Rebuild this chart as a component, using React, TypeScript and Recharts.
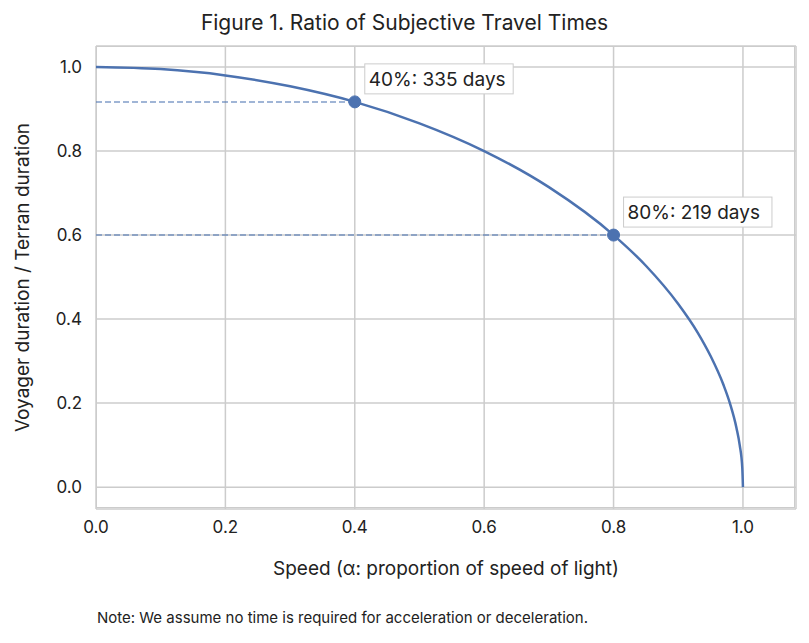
import { ComposedChart, Line, XAxis, YAxis, CartesianGrid, ReferenceLine, ReferenceDot } from "recharts";

const speeds = [0, 0.1, 0.2, 0.3, 0.4, 0.5, 0.6, 0.7, 0.8, 0.85, 0.9, 0.93, 0.95, 0.97, 0.98, 0.99, 0.995, 0.999, 1.0];
const ratios = [1, 0.995, 0.98, 0.954, 0.917, 0.866, 0.8, 0.714, 0.6, 0.527, 0.436, 0.368, 0.312, 0.243, 0.199, 0.141, 0.1, 0.045, 0];
const xTicks = [0, 0.2, 0.4, 0.6, 0.8, 1.0];
const yTicks = [0, 0.2, 0.4, 0.6, 0.8, 1.0];
const marks = [
  { x: 0.4, y: 0.917, label: "40%: 335 days" },
  { x: 0.8, y: 0.6, label: "80%: 219 days" },
];

const data = speeds.map((s, i) => ({ x: s, y: ratios[i] }));
const FONT = "Inter, 'DejaVu Sans', sans-serif";
const BLUE = "#4c72b0";

const BoxLabel = (text: string) => (props: any) => {
  const { viewBox } = props;
  const cx = viewBox.x + viewBox.width / 2;
  const cy = viewBox.y + viewBox.height / 2;
  const w = text.length * 10.8 + 8;
  return (
    <g>
      <rect x={cx + 10} y={cy - 38} width={w} height={30} fill="#fff" stroke="#ccc" />
      <text x={cx + 14} y={cy - 16} fontSize={19} fill="#222" fontFamily={FONT}>{text}</text>
    </g>
  );
};

export default function App() {
  return (
    <div style={{ position: "absolute", left: 0, top: 0, width: 809, height: 643, background: "#fff", fontFamily: FONT }}>
      <div style={{ position: "absolute", top: 10, width: 809, textAlign: "center", fontSize: 21, color: "#222" }}>
        Figure 1. Ratio of Subjective Travel Times
      </div>
      <div style={{ position: "absolute", left: 96, top: 46, width: 699, height: 462, border: "1.5px solid #ccc", boxSizing: "border-box" }} />
      <ComposedChart width={809} height={643} data={data} margin={{ top: 46, right: 13, left: 0, bottom: 74 }}>
        <CartesianGrid stroke="#ccc" strokeWidth={1.5} />
        <XAxis type="number" dataKey="x" domain={[0, 1.082]} ticks={xTicks} tickFormatter={(v) => v.toFixed(1)}
          axisLine={false} tickLine={false} height={60} tick={{ fill: "#222", fontSize: 17 }} tickMargin={6}
          label={{ value: "Speed (α: proportion of speed of light)", position: "insideBottom", offset: -6, fill: "#222", fontSize: 19 }} />
        <YAxis type="number" domain={[-0.052, 1.05]} ticks={yTicks} tickFormatter={(v) => v.toFixed(1)}
          axisLine={false} tickLine={false} width={96} tick={{ fill: "#222", fontSize: 17 }} tickMargin={8}
          label={{ value: "Voyager duration / Terran duration", angle: -90, position: "insideLeft", offset: 22, style: { textAnchor: "middle" }, fill: "#222", fontSize: 19 }} />
        {marks.map((m) => (
          <ReferenceLine key={m.label} segment={[{ x: 0, y: m.y }, { x: m.x, y: m.y }]} stroke={BLUE} strokeOpacity={0.7} strokeDasharray="6 3" strokeWidth={1.5} />
        ))}
        <Line type="monotone" dataKey="y" stroke={BLUE} strokeWidth={2.5} dot={false} isAnimationActive={false} />
        {marks.map((m) => (
          <ReferenceDot key={m.label + "d"} x={m.x} y={m.y} r={6} fill={BLUE} stroke={BLUE} label={BoxLabel(m.label)} />
        ))}
      </ComposedChart>
      <div style={{ position: "absolute", top: 608, left: 97, fontSize: 15, color: "#222" }}>
        Note: We assume no time is required for acceleration or deceleration.
      </div>
    </div>
  );
}
